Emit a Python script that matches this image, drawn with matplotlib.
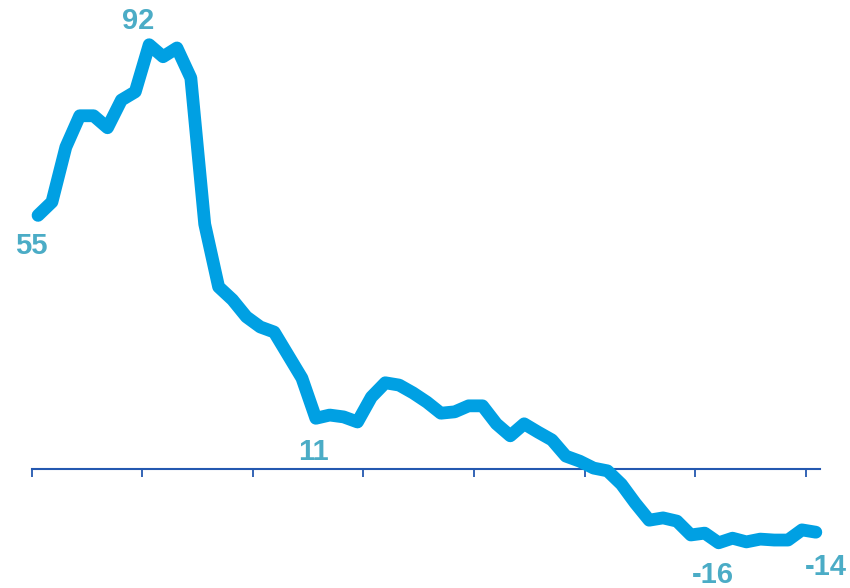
import numpy as np
import matplotlib
matplotlib.use("Agg")
import matplotlib.pyplot as plt

# values (one point per period)
values = [55, 57.9, 69.8, 76.6, 76.6, 74.0, 80.0, 81.8, 92, 89.4,
          91.3, 84.8, 53.1, 39.5, 36.7, 33.0, 30.8, 29.7, 24.7, 19.7,
          11, 11.7, 11.3, 10.2, 15.6, 18.7, 18.2, 16.5, 14.5, 12.1,
          12.4, 13.7, 13.7, 9.8, 7.2, 9.8, 8.0, 6.3, 2.8, 1.7,
          0.2, -0.4, -3.3, -7.4, -11.1, -10.6, -11.3, -14.3, -13.9, -16,
          -15.0, -15.8, -15.2, -15.4, -15.4, -13.2, -13.7]

# labelled points: index, text, offset in points
label_idx = [0, 8, 20, 49, 56]
label_txt = ["55", "92", "11", "-16", "-14"]
label_off = [(-5, -22), (-8, 17), (-2, -24), (-4, -23), (7, -25)]

line_col = "#00A0E3"
label_col = "#4BACC6"
axis_col = "#2458B0"

x = np.arange(len(values))

fig = plt.figure(figsize=(8.5, 5.88), dpi=100)
ax = fig.add_axes([0, 0, 1, 1])

ax.plot(x, values, color=line_col, lw=9.2, solid_capstyle="round",
        solid_joinstyle="round", zorder=3)

for i, t, off in zip(label_idx, label_txt, label_off):
    ax.annotate(t, (x[i], values[i]), xytext=off, textcoords="offset points",
                ha="center", va="center", fontsize=21, fontweight="bold",
                family="Liberation Sans", color=label_col)

ax.set_xlim(-2.74, 58.46)
ax.set_ylim(-25.8, 101.7)

for s in ["top", "left", "right"]:
    ax.spines[s].set_visible(False)
ax.spines["bottom"].set_position(("data", 0))
ax.spines["bottom"].set_bounds(-0.45, 56.3)
ax.spines["bottom"].set_color(axis_col)
ax.spines["bottom"].set_linewidth(1.5)
ax.spines["bottom"].set_zorder(2)

ax.set_xticks(np.arange(-0.45, 56, 7.96))
ax.tick_params(axis="x", direction="out", length=6, width=1.3,
               color=axis_col, labelbottom=False)
ax.set_yticks([])

fig.savefig("out.png", dpi=100)
